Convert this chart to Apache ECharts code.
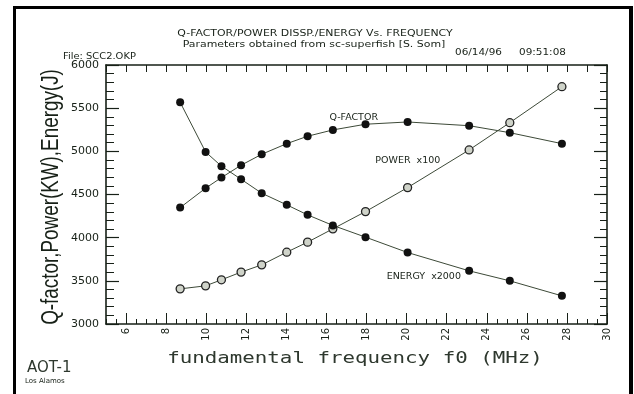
<!DOCTYPE html>
<html><head><meta charset="utf-8">
<script src="https://cdn.jsdelivr.net/npm/echarts@6/dist/echarts.min.js"></script>
<style>html,body{margin:0;padding:0;background:#fff}#c{width:634px;height:394px}</style>
</head><body><div id="c"></div>
<script>
const freq = [8.7, 9.97, 10.76, 11.74, 12.77, 14.02, 15.06, 16.32, 17.95, 20.05, 23.12, 25.15, 27.75];
const qFactor = [4348, 4573, 4696, 4839, 4966, 5089, 5175, 5248, 5314, 5340, 5297, 5216, 5089];
const powerX100 = [3407, 3442, 3512, 3601, 3685, 3832, 3948, 4102, 4302, 4580, 5016, 5332, 5749];
const energyX2000 = [5568, 4993, 4828, 4677, 4515, 4380, 4264, 4142, 4006, 3828, 3616, 3500, 3326];
const xTickLabels = [6, 8, 10, 12, 14, 16, 18, 20, 22, 24, 26, 28, 30];
const yTickLabels = [3000, 3500, 4000, 4500, 5000, 5500, 6000];
const annotations = [
  {name: 'Q-FACTOR', f: 17.36, v: 5387},
  {name: 'POWER  x100', f: 20.06, v: 4889},
  {name: 'ENERGY  x2000', f: 20.86, v: 3546}
];

const ink = '#172017';
const lineCol = '#3d4a38';
const pair = (vals) => freq.map((f, i) => [f, vals[i]]);

const chart = echarts.init(document.getElementById('c'), null, {renderer: 'canvas'});
const axisLine = {show: true, lineStyle: {color: ink, width: 1.6}};
chart.setOption({
  backgroundColor: '#fff',
  animation: false,
  grid: {left: 106, right: 27, top: 65, bottom: 70, show: false},
  xAxis: [
    {type: 'value', min: 5, max: 30, position: 'bottom',
     axisLine: axisLine,
     axisTick: {show: true, inside: true, length: 11, customValues: xTickLabels, lineStyle: {color: ink, width: 1}},
     axisLabel: {show: true, customValues: xTickLabels, rotate: 90, margin: 4, fontSize: 10,
                 fontFamily: 'DejaVu Sans', color: ink},
     splitLine: {show: false}},
    {type: 'value', min: 5, max: 30, interval: 0.5, position: 'bottom',
     axisLine: {show: false},
     axisTick: {show: true, inside: true, length: 5, lineStyle: {color: ink, width: 1}},
     axisLabel: {show: false}, splitLine: {show: false}},
    {type: 'value', min: 5, max: 30, interval: 1, position: 'top',
     axisLine: axisLine,
     axisTick: {show: true, inside: true, length: 7, lineStyle: {color: ink, width: 1}},
     axisLabel: {show: false}, splitLine: {show: false}}
  ],
  yAxis: [
    {type: 'value', min: 3000, max: 6000, interval: 500, position: 'left',
     axisLine: axisLine,
     axisTick: {show: true, inside: true, length: 13, lineStyle: {color: ink, width: 1.2}},
     minorTick: {show: true, splitNumber: 5, length: 8, lineStyle: {color: ink, width: 1}},
     axisLabel: {show: true, customValues: yTickLabels, formatter: (v) => String(v), margin: 7, fontSize: 11,
                 fontFamily: 'DejaVu Sans', color: ink},
     splitLine: {show: false}},
    {type: 'value', min: 3000, max: 6000, interval: 500, position: 'right',
     axisLine: axisLine,
     axisTick: {show: true, inside: true, length: 13, lineStyle: {color: ink, width: 1.2}},
     minorTick: {show: true, splitNumber: 5, length: 7, lineStyle: {color: ink, width: 1}},
     axisLabel: {show: false}, splitLine: {show: false}}
  ],
  series: [
    {name: 'Q-FACTOR', type: 'line', data: pair(qFactor), symbol: 'circle', symbolSize: 8,
     lineStyle: {color: lineCol, width: 1}, itemStyle: {color: '#111', borderWidth: 0},
     markPoint: {symbol: 'circle', symbolSize: 0, silent: true,
       label: {show: true, position: 'inside', formatter: '{b}', fontSize: 9.5, fontFamily: 'DejaVu Sans', color: ink},
       data: annotations.map(a => ({name: a.name, coord: [a.f, a.v]}))}},
    {name: 'POWER x100', type: 'line', data: pair(powerX100), symbol: 'circle', symbolSize: 8,
     lineStyle: {color: lineCol, width: 1}, itemStyle: {color: '#cfd3c9', borderColor: '#222', borderWidth: 1.3}},
    {name: 'ENERGY x2000', type: 'line', data: pair(energyX2000), symbol: 'circle', symbolSize: 8,
     lineStyle: {color: lineCol, width: 1}, itemStyle: {color: '#111', borderWidth: 0}}
  ],
  graphic: [
    {type: 'rect', shape: {x: 13, y: 6, width: 620, height: 3}, style: {fill: '#000'}},
    {type: 'rect', shape: {x: 13, y: 6, width: 3, height: 388}, style: {fill: '#000'}},
    {type: 'rect', shape: {x: 629, y: 6, width: 4, height: 388}, style: {fill: '#000'}},
    {type: 'text', x: 315, y: 34, scaleX: 1.15, style: {text: 'Q-FACTOR/POWER DISSP./ENERGY Vs. FREQUENCY', fontSize: 9.5,
      fontFamily: 'DejaVu Sans', fill: ink, textAlign: 'center', textVerticalAlign: 'middle'}},
    {type: 'text', x: 314, y: 45, scaleX: 1.15, style: {text: 'Parameters obtained from sc-superfish [S. Som]', fontSize: 9.5,
      fontFamily: 'DejaVu Sans', fill: ink, textAlign: 'center', textVerticalAlign: 'middle'}},
    {type: 'text', x: 63, y: 57, scaleX: 1.1, style: {text: 'File: SCC2.OKP', fontSize: 9,
      fontFamily: 'DejaVu Sans', fill: ink, textAlign: 'left', textVerticalAlign: 'middle'}},
    {type: 'text', x: 455, y: 53, scaleX: 1.1, style: {text: '06/14/96', fontSize: 9.5,
      fontFamily: 'DejaVu Sans', fill: ink, textAlign: 'left', textVerticalAlign: 'middle'}},
    {type: 'text', x: 519, y: 53, scaleX: 1.1, style: {text: '09:51:08', fontSize: 9.5,
      fontFamily: 'DejaVu Sans', fill: ink, textAlign: 'left', textVerticalAlign: 'middle'}},
    {type: 'text', x: 52, y: 197, rotation: Math.PI / 2, scaleX: 0.82, style: {text: 'Q-factor,Power(KW),Energy(J)', fontSize: 23,
      fontFamily: 'Liberation Sans', fill: ink, textAlign: 'center', textVerticalAlign: 'middle'}},
    {type: 'text', x: 355, y: 359, scaleX: 1.3, style: {text: 'fundamental frequency f0 (MHz)', fontSize: 16,
      fontFamily: 'DejaVu Sans Mono', fill: '#2e382e', textAlign: 'center', textVerticalAlign: 'middle'}},
    {type: 'text', x: 27, y: 368, style: {text: 'AOT-1', fontSize: 15,
      fontFamily: 'DejaVu Sans', fill: '#2e382e', textAlign: 'left', textVerticalAlign: 'middle'}},
    {type: 'text', x: 25, y: 381, style: {text: 'Los Alamos', fontSize: 7,
      fontFamily: 'DejaVu Sans', fill: ink, textAlign: 'left', textVerticalAlign: 'middle'}}
  ]
});
</script></body></html>
